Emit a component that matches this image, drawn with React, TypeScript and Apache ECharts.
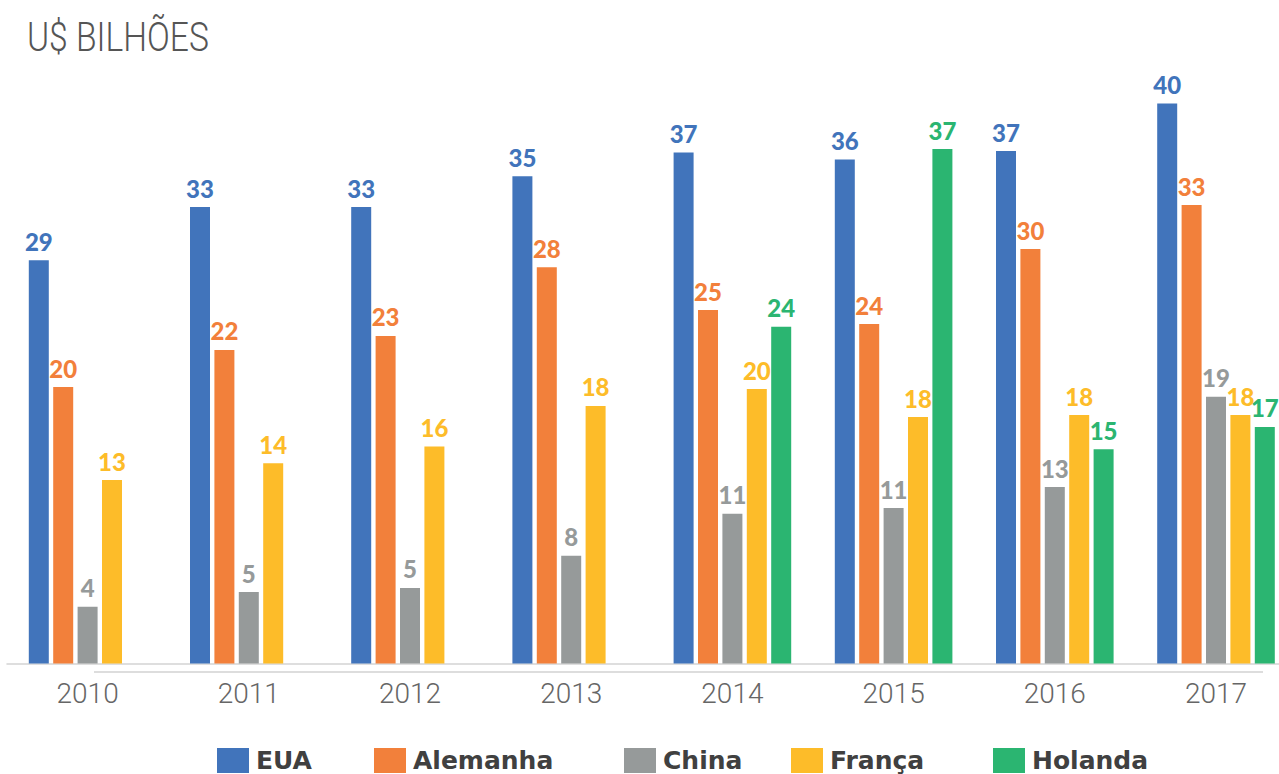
import React, { useEffect, useRef } from 'react';
import * as echarts from 'echarts';

const years = ['2010', '2011', '2012', '2013', '2014', '2015', '2016', '2017'];
const seriesNames = ['EUA', 'Alemanha', 'China', 'França', 'Holanda'];
const eua = [28.8, 32.6, 32.6, 34.8, 36.5, 36.0, 36.6, 40.0];
const alemanha = [19.75, 22.4, 23.4, 28.3, 25.25, 24.25, 29.6, 32.75];
const china = [4.06, 5.1, 5.4, 7.7, 10.7, 11.1, 12.6, 19.05];
const franca = [13.1, 14.3, 15.5, 18.4, 19.6, 17.6, 17.75, 17.75];
const holanda = [null, null, null, null, 24.05, 36.75, 15.3, 16.9];
const seriesData = [eua, alemanha, china, franca, holanda];
const colors = ['#4174BB', '#F2803B', '#969A9A', '#FDBC29', '#2BB571'];
const legendLefts = [217, 374, 624, 791, 993];

export default function App() {
  const ref = useRef<HTMLDivElement>(null);
  useEffect(() => {
    if (!ref.current) return;
    const chart = echarts.init(ref.current, undefined, { renderer: 'svg' });
    const option: any = {
      animation: false,
      backgroundColor: '#ffffff',
      graphic: [
        {
          type: 'text',
          left: 27,
          top: 16,
          scaleX: 0.82,
          style: {
            text: 'U$ BILHÕES',
            fontFamily: 'Roboto',
            fontWeight: 300,
            fontSize: 41,
            fill: '#555555',
          },
        },
        {
          type: 'line',
          shape: { x1: 94, y1: 672, x2: 1263, y2: 672 },
          style: { stroke: '#dddddd', lineWidth: 2 },
        },
      ],
      grid: { left: 7, top: 33.5, width: 1289.6, bottom: 110.5, containLabel: false },
      xAxis: {
        type: 'category',
        data: years,
        axisLine: { show: true, lineStyle: { color: '#d3d3d3', width: 1.5 } },
        axisTick: { show: false },
        axisLabel: {
          color: '#666666',
          fontFamily: 'Roboto',
          fontWeight: 300,
          fontSize: 28,
          margin: 16,
        },
      },
      yAxis: {
        type: 'value',
        min: 0,
        max: 45,
        show: false,
        splitLine: { show: false },
      },
      legend: seriesNames.map((n, i) => ({
        data: [n],
        left: legendLefts[i],
        top: 748,
        padding: 0,
        itemWidth: 32,
        itemHeight: 25,
        icon: 'rect',
        selectedMode: false,
        textStyle: {
          fontFamily: 'DejaVu Sans',
          fontWeight: 'bold',
          fontSize: 25,
          lineHeight: 25,
          color: '#404040',
          padding: [0, 0, 0, 2],
        },
      })),
      series: seriesNames.map((n, i) => ({
        name: n,
        type: 'bar',
        data: seriesData[i],
        barWidth: 20,
        barGap: '22%',
        itemStyle: { color: colors[i] },
        label: {
          show: true,
          position: 'top',
          distance: 7,
          formatter: (p: any) => String(Math.round(p.value)),
          color: colors[i],
          fontFamily: 'Lato',
          fontWeight: 900,
          fontSize: 24,
        },
      })),
    };
    chart.setOption(option);
    return () => chart.dispose();
  }, []);
  return (
    <div style={{ position: 'absolute', left: 0, top: 0, width: 1279, height: 774, overflow: 'hidden' }}>
      <div ref={ref} style={{ width: 1310, height: 774 }} />
    </div>
  );
}
